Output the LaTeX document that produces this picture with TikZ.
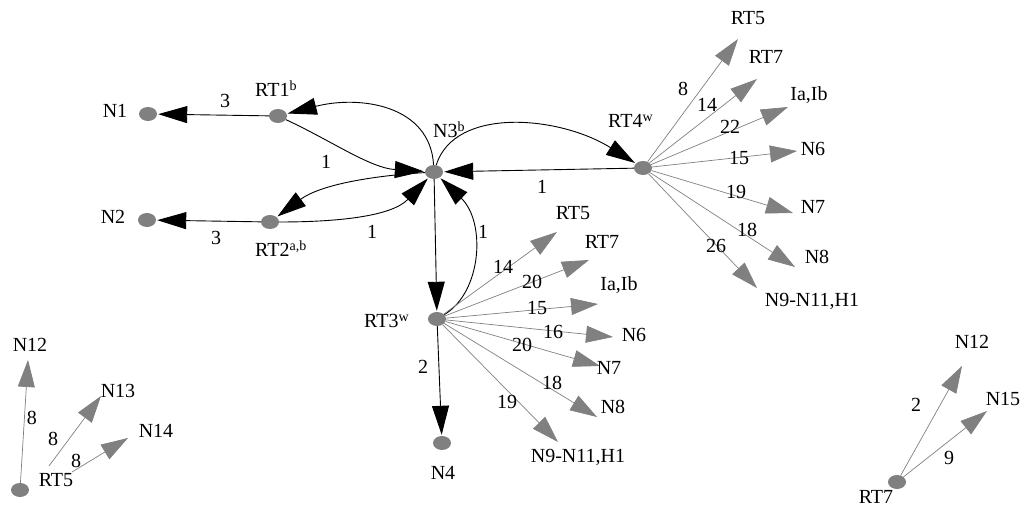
\documentclass[tikz,border=0pt]{standalone}
\usepackage{fontspec}
\setmainfont{Liberation Serif}
\usetikzlibrary{arrows.meta,shapes.geometric}
\newcommand\hi[1]{\raisebox{6pt}{\fontsize{14}{14}\selectfont #1}}
\begin{document}
\begin{tikzpicture}[x=1pt,y=-1pt,font=\fontsize{20}{24}\selectfont,
        dot/.style={ellipse,fill=gray,minimum width=18pt,minimum height=14pt,inner sep=0pt},
        barrow/.style={-{Triangle[length=29pt,width=17pt]},line width=.9pt,shorten >=1pt},
        garrow/.style={-{Triangle[length=27pt,width=17pt]},draw=gray,line width=.7pt}]
    \useasboundingbox (0,0) rectangle (1023,510);
    \node [dot] (n1) at (148,114) {};
    \node [dot] (rt1) at (278,116) {};
    \node [dot] (n2) at (147,220) {};
    \node [dot] (rt2) at (270,222) {};
    \node [dot] (n3) at (434,172) {};
    \node [dot] (rt4) at (643,168) {};
    \node [dot] (rt3) at (437,319) {};
    \node [dot] (n4) at (442,443) {};
    \node [dot] (rt5) at (20,490) {};
    \node [dot] (rt7) at (897,482) {};
    \node (n1l) at (115,111) {N1};
    \node (n2l) at (113,217) {N2};
    \node [anchor=base west,inner sep=0pt] (rt1l) at (255,97) {RT1\hi{b}};
    \node [anchor=base west,inner sep=0pt] (rt2l) at (255,257) {RT2\hi{a,b}};
    \node [anchor=base west,inner sep=0pt] (n3l) at (433,138) {N3\hi{b}};
    \node [anchor=base west,inner sep=0pt] (rt4l) at (608,128) {RT4\hi{w}};
    \node [anchor=base west,inner sep=0pt] (rt3l) at (364,328) {RT3\hi{w}};
    \node (n4l) at (443,473) {N4};
    % black connectors
    \draw [barrow] (rt1) -- (n1);
    \draw [barrow] (rt2) -- (n2);
    \draw [barrow] (rt1) .. controls (330,140) and (370,168) .. (n3);
    \draw [barrow] (n3) .. controls (430,105) and (360,95) .. (rt1);
    \draw [barrow] (n3) .. controls (370,176) and (320,185) .. (rt2);
    \draw [barrow] (rt2) .. controls (340,222) and (392,216) .. (n3);
    \draw [barrow] (n3) .. controls (455,106) and (560,116) .. (rt4);
    \draw [barrow] (rt4) -- (n3);
    \draw [barrow] (n3) -- (rt3);
    \draw [barrow] (rt3) .. controls (482,292) and (486,222) .. (n3);
    \draw [barrow] (rt3) -- (n4);
    \node at (225,101) {3};
    \node at (216,238) {3};
    \node at (326,162) {1};
    \node at (372,232) {1};
    \node at (542,187) {1};
    \node at (483,232) {1};
    \node at (423,367) {2};
    % fan of RT4
    \coordinate (a4rt5) at (738,39);
    \coordinate (a4rt7) at (757,79);
    \coordinate (a4ia) at (788,107);
    \coordinate (a4n6) at (797,151);
    \coordinate (a4n7) at (793,213);
    \coordinate (a4n8) at (795,267);
    \coordinate (a4n9) at (757,288);
    \draw [garrow] (rt4) -- (a4rt5);
    \draw [garrow] (rt4) -- (a4rt7);
    \draw [garrow] (rt4) -- (a4ia);
    \draw [garrow] (rt4) -- (a4n6);
    \draw [garrow] (rt4) -- (a4n7);
    \draw [garrow] (rt4) -- (a4n8);
    \draw [garrow] (rt4) -- (a4n9);
    \node (l4rt5) at (748,18) {RT5};
    \node (l4rt7) at (766,57) {RT7};
    \node (l4ia) at (809,95) {Ia,Ib};
    \node (l4n6) at (813,149) {N6};
    \node (l4n7) at (813,207) {N7};
    \node (l4n8) at (817,257) {N8};
    \node (l4n9) at (812,301) {N9-N11,H1};
    \node at (683,89) {8};
    \node at (707,105) {14};
    \node at (730,127) {22};
    \node at (739,158) {15};
    \node at (736,192) {19};
    \node at (747,230) {18};
    \node at (716,246) {26};
    % fan of RT3
    \coordinate (a3rt5) at (557,232);
    \coordinate (a3rt7) at (589,260);
    \coordinate (a3ia) at (598,304);
    \coordinate (a3n6) at (613,337);
    \coordinate (a3n7) at (600,366);
    \coordinate (a3n8) at (597,417);
    \coordinate (a3n9) at (558,442);
    \draw [garrow] (rt3) -- (a3rt5);
    \draw [garrow] (rt3) -- (a3rt7);
    \draw [garrow] (rt3) -- (a3ia);
    \draw [garrow] (rt3) -- (a3n6);
    \draw [garrow] (rt3) -- (a3n7);
    \draw [garrow] (rt3) -- (a3n8);
    \draw [garrow] (rt3) -- (a3n9);
    \node (l3rt5) at (573,213) {RT5};
    \node (l3rt7) at (602,242) {RT7};
    \node (l3ia) at (619,285) {Ia,Ib};
    \node (l3n6) at (634,335) {N6};
    \node (l3n7) at (609,368) {N7};
    \node (l3n8) at (613,407) {N8};
    \node (l3n9) at (578,457) {N9-N11,H1};
    \node at (503,267) {14};
    \node at (532,282) {20};
    \node at (537,308) {15};
    \node at (553,332) {16};
    \node at (522,345) {20};
    \node at (552,383) {18};
    \node at (507,402) {19};
    % RT5 alone
    \node (rt5l) at (56,480) {RT5};
    \coordinate (b5a) at (49,466);
    \coordinate (b5b) at (72,472);
    \coordinate (a5n12) at (28,360);
    \coordinate (a5n13) at (101,396);
    \coordinate (a5n14) at (128,438);
    \draw [garrow] (rt5) -- (a5n12);
    \draw [garrow] (b5a) -- (a5n13);
    \draw [garrow] (b5b) -- (a5n14);
    \node (l5n12) at (30,345) {N12};
    \node (l5n13) at (118,391) {N13};
    \node (l5n14) at (156,431) {N14};
    \node at (32,418) {8};
    \node at (53,439) {8};
    \node at (76,461) {8};
    % RT7 alone
    \node (rt7l) at (876,497) {RT7};
    \coordinate (a7n12) at (962,366);
    \coordinate (a7n15) at (987,411);
    \draw [garrow] (rt7) -- (a7n12);
    \draw [garrow] (rt7) -- (a7n15);
    \node (l7n12) at (972,342) {N12};
    \node (l7n15) at (1003,399) {N15};
    \node at (916,405) {2};
    \node at (949,458) {9};
\end{tikzpicture}
\end{document}
